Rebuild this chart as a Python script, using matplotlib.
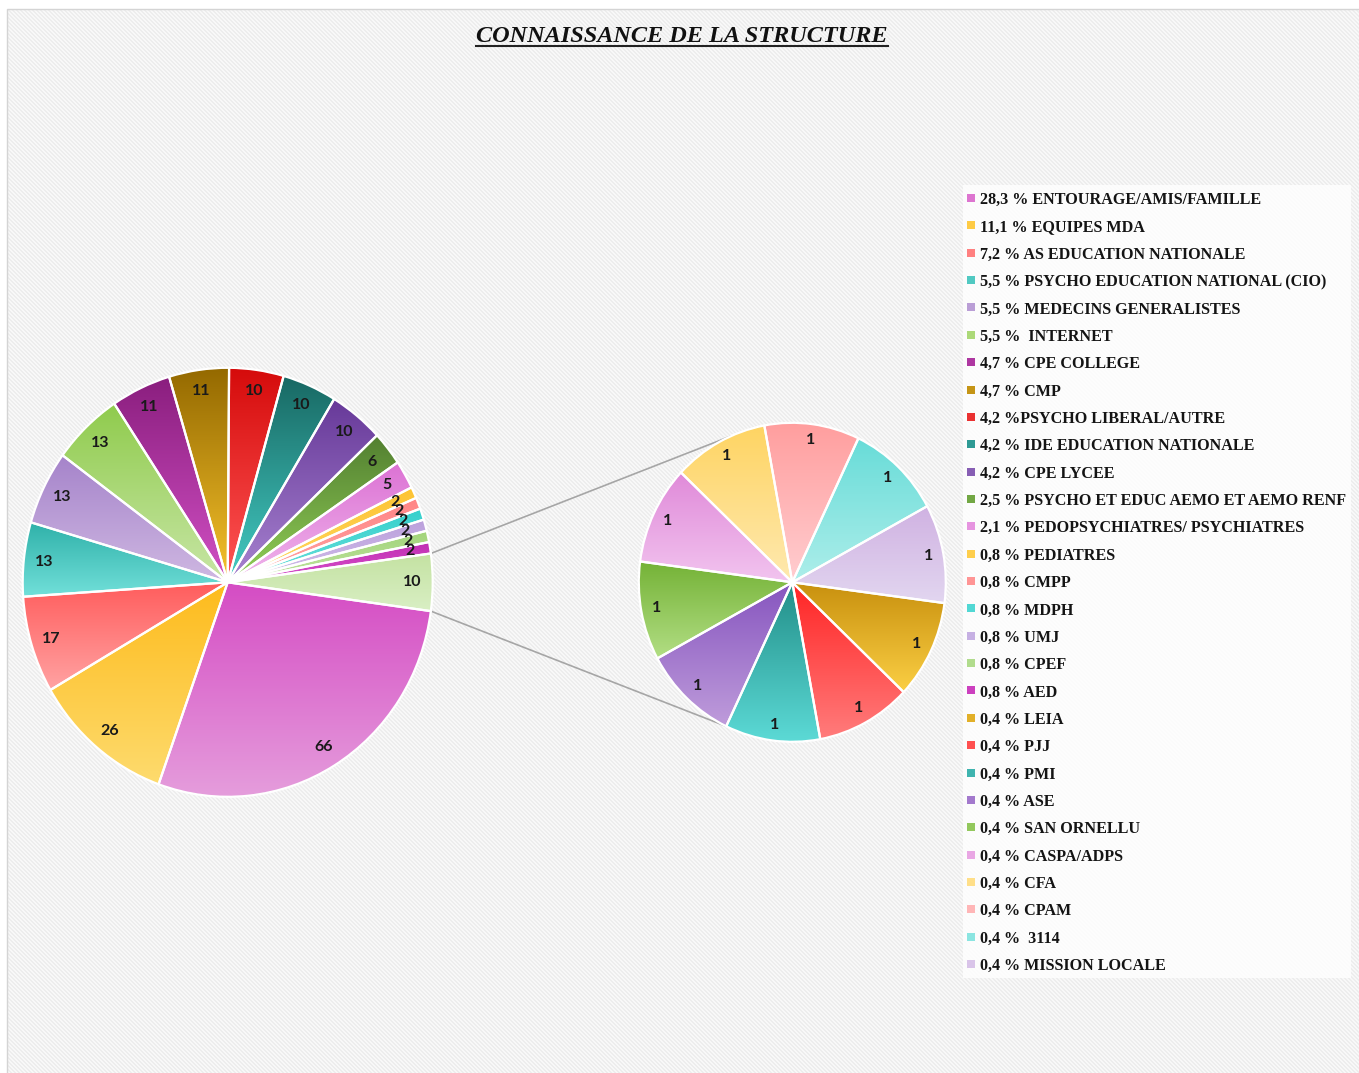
import numpy as np
import matplotlib
matplotlib.use("Agg")
from matplotlib import pyplot as plt
from matplotlib.colors import to_rgb
from matplotlib.lines import Line2D
from matplotlib.patches import ConnectionPatch, Rectangle

W, H = 1359, 1073
DPI = 100

# categories of the main pie, in clockwise slice order (legend order)
main_labels = [
    "28,3 % ENTOURAGE/AMIS/FAMILLE",
    "11,1 % EQUIPES MDA",
    "7,2 % AS EDUCATION NATIONALE",
    "5,5 % PSYCHO EDUCATION NATIONAL (CIO)",
    "5,5 % MEDECINS GENERALISTES",
    "5,5 %  INTERNET",
    "4,7 % CPE COLLEGE",
    "4,7 % CMP",
    "4,2 %PSYCHO LIBERAL/AUTRE",
    "4,2 % IDE EDUCATION NATIONALE",
    "4,2 % CPE LYCEE",
    "2,5 % PSYCHO ET EDUC AEMO ET AEMO RENF",
    "2,1 % PEDOPSYCHIATRES/ PSYCHIATRES",
    "0,8 % PEDIATRES",
    "0,8 % CMPP",
    "0,8 % MDPH",
    "0,8 % UMJ",
    "0,8 % CPEF",
    "0,8 % AED",
]
main_values = [66, 26, 17, 13, 13, 13, 11, 11, 10, 10, 10, 6, 5, 2, 2, 2, 2, 2, 2]

# small sources grouped into the "autre" slice and detailed in the second pie
other_labels = [
    "0,4 % LEIA",
    "0,4 % PJJ",
    "0,4 % PMI",
    "0,4 % ASE",
    "0,4 % SAN ORNELLU",
    "0,4 % CASPA/ADPS",
    "0,4 % CFA",
    "0,4 % CPAM",
    "0,4 %  3114",
    "0,4 % MISSION LOCALE",
]
other_values = [1, 1, 1, 1, 1, 1, 1, 1, 1, 1]

# (top, bottom) gradient colours of each slice
main_colors = [
    ("#d54cc4", "#e59ddc"),
    ("#fdbb1c", "#fedb6e"),
    ("#ff5c5c", "#ffa3a3"),
    ("#2fb1a9", "#72e0da"),
    ("#a583ca", "#cfb8e2"),
    ("#8fcb4c", "#c8e6a6"),
    ("#8a1e7e", "#d150c4"),
    ("#946900", "#f6c22c"),
    ("#d50b0b", "#ff5656"),
    ("#186863", "#44ccc4"),
    ("#673999", "#a783d0"),
    ("#527f30", "#92cf58"),
    ("#dc72d4", "#f0b6ec"),
    ("#fdc332", "#ffd966"),
    ("#ff8585", "#ffa5a5"),
    ("#35d0cc", "#6ee0dc"),
    ("#bba0dc", "#d2c0ea"),
    ("#a2d47a", "#c0e4a0"),
    ("#c02fb2", "#d850cc"),
]
autre_color = ("#c4e2a2", "#d9efc4")
other_colors = [
    ("#c8900e", "#fbcf44"),
    ("#ff2424", "#ff7c7c"),
    ("#228e88", "#5cdad6"),
    ("#8655bf", "#bf9cdb"),
    ("#74b236", "#b2de84"),
    ("#e08ad9", "#f2c4ef"),
    ("#fed462", "#ffe9b0"),
    ("#ff9e9e", "#ffcdd0"),
    ("#68dcd8", "#adeeea"),
    ("#d0b2e2", "#e2d6f0"),
]

LABEL_FONT = dict(family="Lato", fontsize=11.5, weight="bold", color="#1a1a1a")
LEGEND_FONT = dict(family="Liberation Serif", fontsize=11.6, weight="bold", color="#141414")


def px_axes(fig, cx, cy, rx, ry, k=1.1):
    # axes whose data unit circle lands on an rx x ry ellipse centred at (cx, cy) px from top-left
    ax = fig.add_axes([(cx - k * rx) / W, (H - cy - k * ry) / H, 2 * k * rx / W, 2 * k * ry / H])
    return ax


def shade(ax, wedge, top, bottom):
    x0, y0, x1, y1 = wedge.get_path().get_extents().extents
    t = np.linspace(0, 1, 256)[:, None]
    grad = np.array(to_rgb(top)) * (1 - t) + np.array(to_rgb(bottom)) * t
    im = ax.imshow(grad[:, None, :], extent=(x0, x1, y0, y1), origin="upper",
                   aspect="auto", interpolation="bilinear", zorder=0.5)
    im.set_clip_path(wedge)
    wedge.set_facecolor("none")


def draw_pie(ax, values, colors, startangle):
    s = sum(values)
    wedges, _, autotexts = ax.pie(
        values, startangle=startangle, counterclock=False,
        autopct=lambda p: f"{p * s / 100:.0f}", pctdistance=0.9,
        wedgeprops=dict(edgecolor="white", linewidth=1.6),
        textprops=LABEL_FONT,
    )
    for w, (c0, c1) in zip(wedges, colors):
        shade(ax, w, c0, c1)
    for t in autotexts:
        t.set_zorder(5)
    ax.set_aspect("auto")
    ax.set_xlim(-1.1, 1.1)
    ax.set_ylim(-1.1, 1.1)
    ax.axis("off")
    return wedges


fig = plt.figure(figsize=(W / DPI, H / DPI), dpi=DPI, facecolor="white")

# hatched chart background
yy, xx = np.mgrid[0:H - 9, 0:W - 7]
stripe = ((xx - yy) % 4) < 2
bg = np.where(stripe[..., None], to_rgb("#ededed"), to_rgb("#f8f8f8"))
fig.figimage(bg, xo=7, yo=0, zorder=-1)
fig.add_artist(Rectangle((6.5 / W, -0.01), 1.1, (H - 8.5) / H + 0.01, transform=fig.transFigure,
                         fill=False, edgecolor="#d4d4d4", lw=1.0))

# main pie
ax1 = px_axes(fig, 227.7, 582.3, 205, 214.5)
autre_half = 180 * sum(other_values) / (sum(main_values) + sum(other_values))
w1 = draw_pie(ax1, main_values + [sum(other_values)], main_colors + [autre_color], -autre_half)

# second pie
ax2 = px_axes(fig, 792.3, 582.3, 153.5, 159.5)
draw_pie(ax2, other_values, other_colors, -7.5)

# connector lines from the "autre" slice to the second pie
autre = w1[-1]
for a, b in [(autre.theta2, 113.5), (autre.theta1, -115.5)]:
    a, b = np.deg2rad(a), np.deg2rad(b)
    con = ConnectionPatch(xyA=(np.cos(a), np.sin(a)), coordsA=ax1.transData,
                          xyB=(np.cos(b), np.sin(b)), coordsB=ax2.transData,
                          color="#a6a6a6", lw=1.2, zorder=-0.5)
    fig.add_artist(con)

# legend
leg = fig.add_axes([963 / W, (H - 978) / H, 388 / W, 793 / H])
leg.set_facecolor((1, 1, 1, 0.8))
for sp in leg.spines.values():
    sp.set_visible(False)
leg.set_xticks([])
leg.set_yticks([])
leg.set_xlim(0, 388)
leg.set_ylim(28.51, -0.475)
all_labels = main_labels + other_labels
all_colors = main_colors + other_colors
for i, (lab, (c0, c1)) in enumerate(zip(all_labels, all_colors)):
    mid = (np.array(to_rgb(c0)) + np.array(to_rgb(c1))) / 2
    leg.scatter(8, i, marker="s", s=26, color=mid, linewidths=0)
    leg.text(17, i, lab, va="center_baseline", ha="left", **LEGEND_FONT)

# underlined title
title = fig.text(682 / W, (H - 41.7) / H, "CONNAISSANCE DE LA STRUCTURE", ha="center", va="baseline",
                 family="Liberation Serif", style="italic", weight="bold", fontsize=17.5,
                 color="#111111")
fig.canvas.draw()
bb = title.get_window_extent()
fig.add_artist(Line2D([bb.x0, bb.x1], [H - 45.5, H - 45.5], transform=None, color="#222222", lw=1.5))

fig.savefig("out.png", dpi=DPI, facecolor="white")
